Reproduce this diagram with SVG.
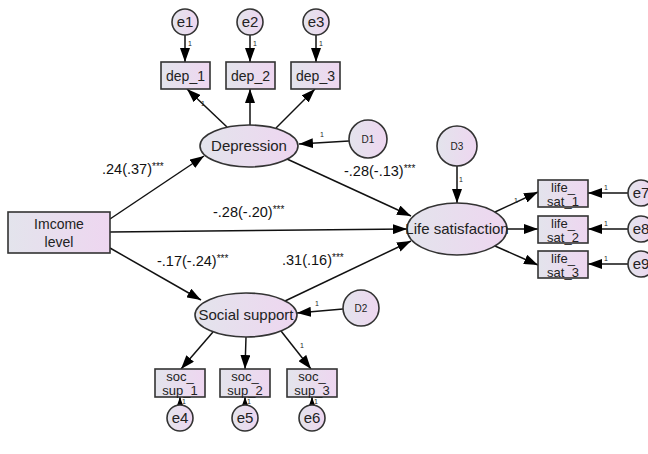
<svg xmlns="http://www.w3.org/2000/svg" width="648" height="454" viewBox="0 0 648 454">
<defs>
<linearGradient id="g" x1="0" y1="0" x2="1" y2="0">
<stop offset="0" stop-color="#e3e4ec"/>
<stop offset="1" stop-color="#eed6f0"/>
</linearGradient>
<marker id="ah" markerUnits="userSpaceOnUse" markerWidth="15" markerHeight="10" refX="14" refY="5" orient="auto">
<path d="M0,0 L14,5 L0,10 z" fill="#000"/>
</marker>
</defs>
<style>
.n{fill:url(#g);stroke:#333;stroke-width:1.6}
.t{font-family:"Liberation Sans",Arial,sans-serif;font-size:14px;fill:#222;text-anchor:middle}
.e{font-family:"Liberation Sans",Arial,sans-serif;font-size:15px;fill:#222;text-anchor:middle}
.s{font-family:"Liberation Sans",Arial,sans-serif;font-size:13px;fill:#222;text-anchor:middle}
.d{font-family:"Liberation Sans",Arial,sans-serif;font-size:10px;fill:#222;text-anchor:middle}
.l{font-family:"Liberation Sans",Arial,sans-serif;font-size:14.5px;fill:#111}
.st{font-size:10px}
.one{font-family:"Liberation Sans",Arial,sans-serif;font-size:7px;fill:#222}
.c line{stroke:#111;stroke-width:1.5;marker-end:url(#ah)}
</style>
<rect width="648" height="454" fill="#fff"/>
<g class="c" id="connectors">
<line x1="185" y1="35" x2="185" y2="62"/>
<line x1="250" y1="35" x2="250" y2="62"/>
<line x1="316" y1="35" x2="316" y2="62"/>
<line x1="227" y1="127" x2="187" y2="89"/>
<line x1="250" y1="125" x2="250" y2="89"/>
<line x1="276" y1="128" x2="315" y2="89"/>
<line x1="349" y1="141" x2="299" y2="144"/>
<line x1="110" y1="219" x2="204" y2="156"/>
<line x1="110" y1="232" x2="407" y2="229"/>
<line x1="110" y1="248" x2="201" y2="300"/>
<line x1="287" y1="159" x2="411" y2="216"/>
<line x1="285" y1="301" x2="411" y2="241"/>
<line x1="457" y1="166" x2="457" y2="203"/>
<line x1="343" y1="309" x2="297" y2="313"/>
<line x1="213" y1="332" x2="181" y2="369"/>
<line x1="246" y1="337" x2="245" y2="369"/>
<line x1="281" y1="331" x2="311" y2="369"/>
<line x1="180" y1="405" x2="180" y2="397"/>
<line x1="245" y1="405" x2="245" y2="397"/>
<line x1="312" y1="405" x2="312" y2="397"/>
<line x1="495" y1="212" x2="538" y2="192"/>
<line x1="507" y1="229" x2="538" y2="229"/>
<line x1="495" y1="246" x2="538" y2="265"/>
<line x1="628" y1="193" x2="588" y2="193"/>
<line x1="628" y1="229" x2="588" y2="229"/>
<line x1="628" y1="264" x2="588" y2="264"/>
</g>
<g id="labels">
<text class="l" x="102" y="174">.24(.37)<tspan class="st" dy="-4">***</tspan></text>
<text class="l" x="344" y="176">-.28(-.13)<tspan class="st" dy="-4">***</tspan></text>
<text class="l" x="213" y="217">-.28(-.20)<tspan class="st" dy="-4">***</tspan></text>
<text class="l" x="157" y="266">-.17(-.24)<tspan class="st" dy="-4">***</tspan></text>
<text class="l" x="282" y="265">.31(.16)<tspan class="st" dy="-4">***</tspan></text>
<text class="one" x="188" y="46">1</text>
<text class="one" x="253" y="46">1</text>
<text class="one" x="319" y="46">1</text>
<text class="one" x="201" y="106">1</text>
<text class="one" x="320" y="137">1</text>
<text class="one" x="459" y="182">1</text>
<text class="one" x="514" y="203">1</text>
<text class="one" x="604" y="190">1</text>
<text class="one" x="604" y="226">1</text>
<text class="one" x="604" y="261">1</text>
<text class="one" x="315" y="306">1</text>
<text class="one" x="300" y="348">1</text>
<text class="one" x="182" y="404">1</text>
<text class="one" x="247" y="404">1</text>
<text class="one" x="314" y="404">1</text>
</g>
<g id="e1"><circle class="n" cx="185" cy="22" r="13"/><text class="e" x="185" y="27">e1</text></g>
<g id="e2"><circle class="n" cx="250" cy="22" r="13"/><text class="e" x="250" y="27">e2</text></g>
<g id="e3"><circle class="n" cx="316" cy="22" r="13"/><text class="e" x="316" y="27">e3</text></g>
<g id="dep_1"><rect class="n" x="161" y="62" width="49" height="27"/><text class="t" x="185.5" y="81">dep_1</text></g>
<g id="dep_2"><rect class="n" x="226" y="62" width="49" height="27"/><text class="t" x="250.5" y="81">dep_2</text></g>
<g id="dep_3"><rect class="n" x="291" y="62" width="49" height="27"/><text class="t" x="315.5" y="81">dep_3</text></g>
<g id="depression"><ellipse class="n" cx="249" cy="146" rx="49" ry="21"/><text class="e" x="249" y="151">Depression</text></g>
<g id="D1"><circle class="n" cx="368" cy="139" r="19"/><text class="d" x="368" y="143">D1</text></g>
<g id="income"><rect class="n" x="8" y="212" width="102" height="41"/><text class="t" x="59" y="229">Imcome</text><text class="t" x="59" y="247">level</text></g>
<g id="D3"><circle class="n" cx="457" cy="146" r="20"/><text class="d" x="457" y="150">D3</text></g>
<g id="lifesat"><ellipse class="n" cx="457" cy="229" rx="50" ry="26"/><text class="e" x="457" y="234">Life satisfaction</text></g>
<g id="life_sat_1"><rect class="n" x="538" y="180" width="50" height="27"/><text class="s" x="563" y="192">life_</text><text class="s" x="563" y="206">sat_1</text></g>
<g id="life_sat_2"><rect class="n" x="538" y="216" width="50" height="27"/><text class="s" x="563" y="228">life_</text><text class="s" x="563" y="242">sat_2</text></g>
<g id="life_sat_3"><rect class="n" x="538" y="251" width="50" height="27"/><text class="s" x="563" y="263">life_</text><text class="s" x="563" y="277">sat_3</text></g>
<g id="e7"><circle class="n" cx="641" cy="193" r="13"/><text class="e" x="641" y="198">e7</text></g>
<g id="e8"><circle class="n" cx="641" cy="229" r="13"/><text class="e" x="641" y="234">e8</text></g>
<g id="e9"><circle class="n" cx="641" cy="264" r="13"/><text class="e" x="641" y="269">e9</text></g>
<g id="social"><ellipse class="n" cx="246" cy="315" rx="51" ry="22"/><text class="e" x="246" y="320">Social support</text></g>
<g id="D2"><circle class="n" cx="361" cy="308" r="18"/><text class="d" x="361" y="312">D2</text></g>
<g id="soc_sup_1"><rect class="n" x="155" y="369" width="50" height="28"/><text class="s" x="180" y="381">soc_</text><text class="s" x="180" y="395">sup_1</text></g>
<g id="soc_sup_2"><rect class="n" x="220" y="369" width="50" height="28"/><text class="s" x="245" y="381">soc_</text><text class="s" x="245" y="395">sup_2</text></g>
<g id="soc_sup_3"><rect class="n" x="287" y="369" width="50" height="28"/><text class="s" x="312" y="381">soc_</text><text class="s" x="312" y="395">sup_3</text></g>
<g id="e4"><circle class="n" cx="180" cy="418" r="13"/><text class="e" x="180" y="423">e4</text></g>
<g id="e5"><circle class="n" cx="245" cy="418" r="13"/><text class="e" x="245" y="423">e5</text></g>
<g id="e6"><circle class="n" cx="312" cy="418" r="13"/><text class="e" x="312" y="423">e6</text></g>
</svg>
